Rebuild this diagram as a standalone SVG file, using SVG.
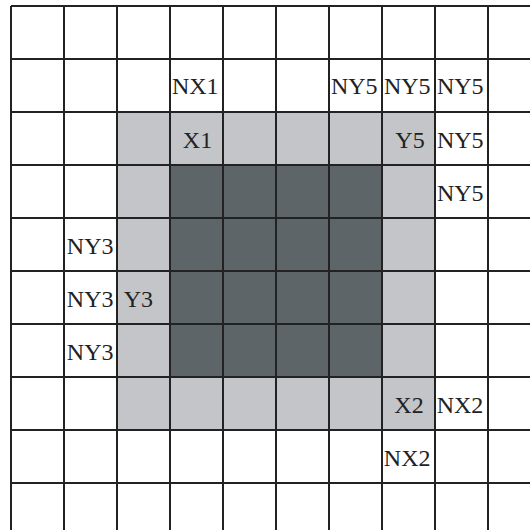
<svg xmlns="http://www.w3.org/2000/svg" width="530" height="530" viewBox="0 0 530 530">
<style>
.l{fill:#c3c5c9}
.d{fill:#5e6569}
.g{stroke:#222;stroke-width:2;fill:none}
text{font-family:"Liberation Serif","Times New Roman",serif;font-size:24px;fill:#222;text-anchor:middle}
</style>
<rect width="530" height="530" fill="#fff"/>
<g id="regions">
<rect class="l" x="117" y="112" width="318" height="318"/>
<rect class="d" x="170" y="165" width="212" height="212"/>
</g>
<g id="grid" class="g">
<path d="M11 6H530M11 59H530M11 112H530M11 165H530M11 218H530M11 271H530M11 324H530M11 377H530M11 430H530M11 483H530"/>
<path d="M11 6V530M64 6V530M117 6V530M170 6V530M223 6V530M276 6V530M329 6V530M382 6V530M435 6V530M488 6V530"/>
</g>
<g id="labels">
<text x="195.3" y="94.3">NX1</text>
<text x="354.3" y="94.3">NY5</text>
<text x="407.3" y="94.3">NY5</text>
<text x="460.3" y="94.3">NY5</text>
<text x="197.5" y="148">X1</text>
<text x="410" y="148">Y5</text>
<text x="460.3" y="148">NY5</text>
<text x="460.3" y="201">NY5</text>
<text x="90.2" y="253.5">NY3</text>
<text x="90.2" y="306.5">NY3</text>
<text x="138.3" y="306.5">Y3</text>
<text x="90.2" y="359.5">NY3</text>
<text x="409" y="412.5">X2</text>
<text x="460" y="412.5">NX2</text>
<text x="407.2" y="465.5">NX2</text>
</g>
</svg>
